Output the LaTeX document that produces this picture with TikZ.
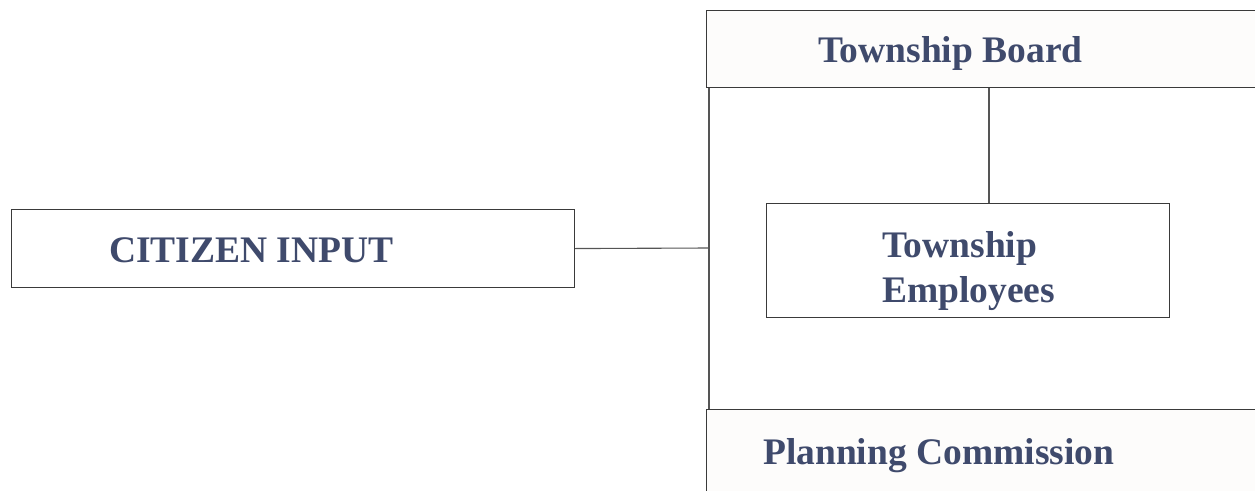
\documentclass[tikz,border=0pt]{standalone}
\usepackage{fontspec}
\setmainfont{Liberation Serif}
\definecolor{txt}{HTML}{3F4A6C}
\definecolor{edge}{HTML}{3A3A3A}
\definecolor{linec}{HTML}{555555}
\definecolor{paper}{HTML}{FDFCFB}
\tikzset{
  box/.style={draw=edge, line width=1.1pt, inner sep=0pt, anchor=north west},
  lbl/.style={text=txt, font=\fontsize{37.5}{45}\selectfont\bfseries, inner sep=0pt, anchor=base west},
  conn/.style={draw=linec, line width=1.1pt}
}
\begin{document}
\begin{tikzpicture}[x=1pt,y=-1pt]
\useasboundingbox (0,0) rectangle (1255,490);
\clip (0,0) rectangle (1255,490);
% boxes
\node[box, fill=paper, minimum width=600pt, minimum height=77pt] (board) at (706,10) {};
\node[box, fill=white, minimum width=403pt, minimum height=114pt] (emp) at (766,203) {};
\node[box, fill=white, minimum width=563pt, minimum height=78pt] (cit) at (11,209) {};
\node[box, fill=paper, minimum width=600pt, minimum height=120pt] (plan) at (706,409) {};
% labels
\node[lbl] (boardt) at (818,62) {Township Board};
\node[lbl] (citt) at (109,262) {CITIZEN INPUT};
\node[lbl] (emp1) at (882,257) {Township};
\node[lbl] (emp2) at (882,302) {Employees};
\node[lbl] (plant) at (763,464) {Planning Commission};
% connectors
\coordinate (spine) at (709,248);
\coordinate (et) at (989,203);
\draw[conn] (board.south -| spine) -- (plan.north -| spine);
\draw[conn] (cit.east) -- (spine);
\draw[conn] (board.south -| et) -- (emp.north -| et);
\end{tikzpicture}
\end{document}
